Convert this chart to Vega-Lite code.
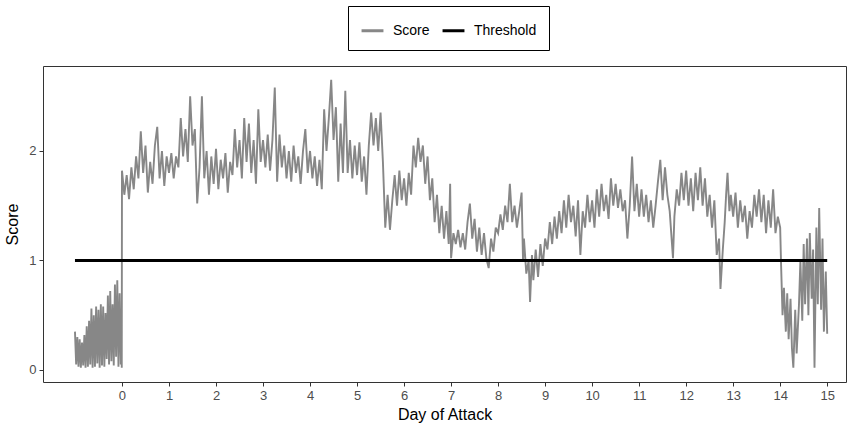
{
  "$schema": "https://vega.github.io/schema/vega-lite/v6.json",
  "width": 803,
  "height": 316,
  "autosize": {"type": "none"},
  "padding": {"left": 43, "top": 66, "right": 2, "bottom": 44},
  "background": "white",
  "config": {
    "font": "Liberation Sans",
    "view": {"stroke": "#333333", "strokeWidth": 1},
    "axis": {
      "domain": false,
      "grid": false,
      "tickColor": "#333333",
      "tickSize": 4,
      "labelColor": "#4d4d4d",
      "labelFontSize": 13,
      "labelPadding": 3,
      "titleFontSize": 16,
      "titleFontWeight": "normal",
      "titleColor": "black"
    }
  },
  "datasets": {
    "score": [
      {"d": -1.0, "s": 0.35}, {"d": -0.975, "s": 0.05}, {"d": -0.95, "s": 0.3}, {"d": -0.925, "s": 0.03},
      {"d": -0.9, "s": 0.28}, {"d": -0.875, "s": 0.02}, {"d": -0.85, "s": 0.25}, {"d": -0.825, "s": 0.04},
      {"d": -0.8, "s": 0.32}, {"d": -0.775, "s": 0.02}, {"d": -0.75, "s": 0.4}, {"d": -0.725, "s": 0.03},
      {"d": -0.7, "s": 0.45}, {"d": -0.675, "s": 0.05}, {"d": -0.65, "s": 0.56}, {"d": -0.625, "s": 0.02},
      {"d": -0.6, "s": 0.5}, {"d": -0.575, "s": 0.03}, {"d": -0.55, "s": 0.58}, {"d": -0.525, "s": 0.06},
      {"d": -0.5, "s": 0.55}, {"d": -0.475, "s": 0.02}, {"d": -0.45, "s": 0.6}, {"d": -0.425, "s": 0.04},
      {"d": -0.4, "s": 0.58}, {"d": -0.375, "s": 0.03}, {"d": -0.35, "s": 0.52}, {"d": -0.325, "s": 0.1},
      {"d": -0.3, "s": 0.68}, {"d": -0.275, "s": 0.05}, {"d": -0.25, "s": 0.72}, {"d": -0.225, "s": 0.08},
      {"d": -0.2, "s": 0.6}, {"d": -0.175, "s": 0.04}, {"d": -0.15, "s": 0.78}, {"d": -0.125, "s": 0.12},
      {"d": -0.1, "s": 0.82}, {"d": -0.075, "s": 0.03}, {"d": -0.05, "s": 0.7}, {"d": -0.025, "s": 0.05},
      {"d": -0.01, "s": 0.45}, {"d": -0.005, "s": 0.02},
      {"d": 0.0, "s": 1.82}, {"d": 0.05, "s": 1.6}, {"d": 0.1, "s": 1.78}, {"d": 0.15, "s": 1.56},
      {"d": 0.2, "s": 1.85}, {"d": 0.25, "s": 1.65}, {"d": 0.3, "s": 1.95}, {"d": 0.35, "s": 1.75},
      {"d": 0.4, "s": 2.18}, {"d": 0.45, "s": 1.8}, {"d": 0.5, "s": 2.05}, {"d": 0.55, "s": 1.62},
      {"d": 0.6, "s": 1.9}, {"d": 0.65, "s": 1.7}, {"d": 0.7, "s": 2.05}, {"d": 0.75, "s": 2.22},
      {"d": 0.8, "s": 1.75}, {"d": 0.85, "s": 2.0}, {"d": 0.9, "s": 1.68}, {"d": 0.95, "s": 1.95},
      {"d": 1.0, "s": 1.8}, {"d": 1.05, "s": 1.98}, {"d": 1.1, "s": 1.75}, {"d": 1.15, "s": 1.95},
      {"d": 1.2, "s": 1.85}, {"d": 1.25, "s": 2.3}, {"d": 1.3, "s": 1.95}, {"d": 1.35, "s": 2.2},
      {"d": 1.4, "s": 1.9}, {"d": 1.45, "s": 2.5}, {"d": 1.5, "s": 2.05}, {"d": 1.55, "s": 2.2},
      {"d": 1.6, "s": 1.52}, {"d": 1.65, "s": 1.85}, {"d": 1.7, "s": 2.5}, {"d": 1.75, "s": 1.75},
      {"d": 1.8, "s": 2.0}, {"d": 1.85, "s": 1.6}, {"d": 1.9, "s": 1.95}, {"d": 1.95, "s": 1.7},
      {"d": 2.0, "s": 2.02}, {"d": 2.05, "s": 1.65}, {"d": 2.1, "s": 1.92}, {"d": 2.15, "s": 1.75},
      {"d": 2.2, "s": 1.98}, {"d": 2.25, "s": 1.62}, {"d": 2.3, "s": 1.9}, {"d": 2.35, "s": 1.78},
      {"d": 2.4, "s": 2.2}, {"d": 2.45, "s": 1.85}, {"d": 2.5, "s": 2.1}, {"d": 2.55, "s": 1.75},
      {"d": 2.6, "s": 2.3}, {"d": 2.65, "s": 1.9}, {"d": 2.7, "s": 2.25}, {"d": 2.75, "s": 1.8},
      {"d": 2.8, "s": 2.1}, {"d": 2.85, "s": 1.7}, {"d": 2.9, "s": 2.38}, {"d": 2.95, "s": 1.9},
      {"d": 3.0, "s": 2.1}, {"d": 3.05, "s": 1.85}, {"d": 3.1, "s": 2.15}, {"d": 3.15, "s": 1.82},
      {"d": 3.2, "s": 2.1}, {"d": 3.25, "s": 2.58}, {"d": 3.3, "s": 1.72}, {"d": 3.35, "s": 2.15},
      {"d": 3.4, "s": 1.85}, {"d": 3.45, "s": 2.05}, {"d": 3.5, "s": 1.75}, {"d": 3.55, "s": 2.0},
      {"d": 3.6, "s": 1.72}, {"d": 3.65, "s": 2.05}, {"d": 3.7, "s": 1.8}, {"d": 3.75, "s": 1.95},
      {"d": 3.8, "s": 1.7}, {"d": 3.85, "s": 2.0}, {"d": 3.9, "s": 2.2}, {"d": 3.95, "s": 1.8},
      {"d": 4.0, "s": 2.0}, {"d": 4.05, "s": 1.75}, {"d": 4.1, "s": 1.95}, {"d": 4.15, "s": 1.68},
      {"d": 4.2, "s": 1.92}, {"d": 4.25, "s": 1.65}, {"d": 4.3, "s": 2.38}, {"d": 4.35, "s": 2.0},
      {"d": 4.4, "s": 2.3}, {"d": 4.45, "s": 2.65}, {"d": 4.5, "s": 2.1}, {"d": 4.55, "s": 2.4},
      {"d": 4.6, "s": 1.72}, {"d": 4.65, "s": 2.25}, {"d": 4.7, "s": 1.8}, {"d": 4.75, "s": 2.55},
      {"d": 4.8, "s": 1.8}, {"d": 4.85, "s": 2.1}, {"d": 4.9, "s": 1.75}, {"d": 4.95, "s": 2.05},
      {"d": 5.0, "s": 1.78}, {"d": 5.05, "s": 2.08}, {"d": 5.1, "s": 1.72}, {"d": 5.15, "s": 1.95},
      {"d": 5.2, "s": 1.6}, {"d": 5.25, "s": 2.05}, {"d": 5.3, "s": 2.35}, {"d": 5.35, "s": 2.05},
      {"d": 5.4, "s": 2.3}, {"d": 5.45, "s": 2.0}, {"d": 5.5, "s": 2.35}, {"d": 5.55, "s": 1.9},
      {"d": 5.6, "s": 1.3}, {"d": 5.65, "s": 1.6}, {"d": 5.7, "s": 1.28}, {"d": 5.75, "s": 1.55},
      {"d": 5.8, "s": 1.78}, {"d": 5.85, "s": 1.5}, {"d": 5.9, "s": 1.82}, {"d": 5.95, "s": 1.55},
      {"d": 6.0, "s": 1.75}, {"d": 6.05, "s": 1.5}, {"d": 6.1, "s": 1.8}, {"d": 6.15, "s": 1.6},
      {"d": 6.2, "s": 2.05}, {"d": 6.25, "s": 1.85}, {"d": 6.3, "s": 2.12}, {"d": 6.35, "s": 1.9},
      {"d": 6.4, "s": 2.05}, {"d": 6.45, "s": 1.7}, {"d": 6.5, "s": 1.95}, {"d": 6.55, "s": 1.55},
      {"d": 6.6, "s": 1.75}, {"d": 6.65, "s": 1.35}, {"d": 6.7, "s": 1.6}, {"d": 6.75, "s": 1.25},
      {"d": 6.8, "s": 1.5}, {"d": 6.85, "s": 1.2}, {"d": 6.9, "s": 1.45}, {"d": 6.95, "s": 1.15},
      {"d": 6.98, "s": 1.7}, {"d": 7.0, "s": 1.02}, {"d": 7.05, "s": 1.25}, {"d": 7.1, "s": 1.15},
      {"d": 7.15, "s": 1.28}, {"d": 7.2, "s": 1.12}, {"d": 7.25, "s": 1.25}, {"d": 7.3, "s": 1.1},
      {"d": 7.35, "s": 1.35}, {"d": 7.4, "s": 1.52}, {"d": 7.45, "s": 1.2}, {"d": 7.5, "s": 1.38},
      {"d": 7.55, "s": 1.08}, {"d": 7.6, "s": 1.3}, {"d": 7.65, "s": 1.05}, {"d": 7.7, "s": 1.25},
      {"d": 7.75, "s": 1.02}, {"d": 7.8, "s": 0.93}, {"d": 7.85, "s": 1.2}, {"d": 7.9, "s": 1.08},
      {"d": 7.95, "s": 1.3}, {"d": 8.0, "s": 1.25}, {"d": 8.05, "s": 1.42}, {"d": 8.1, "s": 1.28},
      {"d": 8.15, "s": 1.5}, {"d": 8.2, "s": 1.35}, {"d": 8.25, "s": 1.7}, {"d": 8.3, "s": 1.35},
      {"d": 8.35, "s": 1.5}, {"d": 8.4, "s": 1.3}, {"d": 8.45, "s": 1.45}, {"d": 8.5, "s": 1.62},
      {"d": 8.53, "s": 1.0}, {"d": 8.55, "s": 1.2}, {"d": 8.6, "s": 0.88}, {"d": 8.65, "s": 1.0},
      {"d": 8.68, "s": 0.62}, {"d": 8.72, "s": 1.05}, {"d": 8.75, "s": 0.82}, {"d": 8.8, "s": 1.1},
      {"d": 8.85, "s": 0.85}, {"d": 8.9, "s": 1.15}, {"d": 8.95, "s": 0.95}, {"d": 9.0, "s": 1.2},
      {"d": 9.05, "s": 1.1}, {"d": 9.1, "s": 1.35}, {"d": 9.15, "s": 1.15}, {"d": 9.2, "s": 1.4},
      {"d": 9.25, "s": 1.2}, {"d": 9.3, "s": 1.45}, {"d": 9.35, "s": 1.25}, {"d": 9.4, "s": 1.55},
      {"d": 9.45, "s": 1.3}, {"d": 9.5, "s": 1.6}, {"d": 9.55, "s": 1.35}, {"d": 9.6, "s": 1.5},
      {"d": 9.65, "s": 1.22}, {"d": 9.7, "s": 1.55}, {"d": 9.75, "s": 1.05}, {"d": 9.8, "s": 1.45},
      {"d": 9.85, "s": 1.3}, {"d": 9.9, "s": 1.6}, {"d": 9.95, "s": 1.35}, {"d": 10.0, "s": 1.55},
      {"d": 10.05, "s": 1.3}, {"d": 10.1, "s": 1.65}, {"d": 10.15, "s": 1.4}, {"d": 10.2, "s": 1.7},
      {"d": 10.25, "s": 1.45}, {"d": 10.3, "s": 1.6}, {"d": 10.35, "s": 1.38}, {"d": 10.4, "s": 1.75},
      {"d": 10.45, "s": 1.5}, {"d": 10.5, "s": 1.7}, {"d": 10.55, "s": 1.48}, {"d": 10.6, "s": 1.65},
      {"d": 10.65, "s": 1.45}, {"d": 10.7, "s": 1.55}, {"d": 10.75, "s": 1.2}, {"d": 10.8, "s": 1.5},
      {"d": 10.85, "s": 1.95}, {"d": 10.9, "s": 1.45}, {"d": 10.95, "s": 1.7}, {"d": 11.0, "s": 1.4},
      {"d": 11.05, "s": 1.65}, {"d": 11.1, "s": 1.4}, {"d": 11.15, "s": 1.6}, {"d": 11.2, "s": 1.35},
      {"d": 11.25, "s": 1.55}, {"d": 11.3, "s": 1.3}, {"d": 11.35, "s": 1.5}, {"d": 11.4, "s": 1.72},
      {"d": 11.45, "s": 1.92}, {"d": 11.5, "s": 1.55}, {"d": 11.55, "s": 1.85}, {"d": 11.6, "s": 1.6},
      {"d": 11.65, "s": 1.45}, {"d": 11.72, "s": 1.02}, {"d": 11.75, "s": 1.4}, {"d": 11.8, "s": 1.65},
      {"d": 11.85, "s": 1.5}, {"d": 11.9, "s": 1.8}, {"d": 11.95, "s": 1.55}, {"d": 12.0, "s": 1.82},
      {"d": 12.05, "s": 1.5}, {"d": 12.1, "s": 1.75}, {"d": 12.15, "s": 1.45}, {"d": 12.2, "s": 1.8},
      {"d": 12.25, "s": 1.55}, {"d": 12.3, "s": 1.85}, {"d": 12.35, "s": 1.5}, {"d": 12.4, "s": 1.75},
      {"d": 12.45, "s": 1.4}, {"d": 12.5, "s": 1.6}, {"d": 12.55, "s": 1.3}, {"d": 12.6, "s": 1.55},
      {"d": 12.65, "s": 1.05}, {"d": 12.7, "s": 1.2}, {"d": 12.73, "s": 0.74}, {"d": 12.78, "s": 1.1},
      {"d": 12.82, "s": 1.35}, {"d": 12.85, "s": 1.6}, {"d": 12.88, "s": 1.8}, {"d": 12.92, "s": 1.45},
      {"d": 12.95, "s": 1.6}, {"d": 13.0, "s": 1.4}, {"d": 13.05, "s": 1.62}, {"d": 13.1, "s": 1.3},
      {"d": 13.15, "s": 1.55}, {"d": 13.2, "s": 1.35}, {"d": 13.25, "s": 1.5}, {"d": 13.3, "s": 1.2},
      {"d": 13.35, "s": 1.45}, {"d": 13.4, "s": 1.3}, {"d": 13.45, "s": 1.6}, {"d": 13.5, "s": 1.4},
      {"d": 13.55, "s": 1.65}, {"d": 13.6, "s": 1.35}, {"d": 13.65, "s": 1.6}, {"d": 13.7, "s": 1.25},
      {"d": 13.75, "s": 1.55}, {"d": 13.8, "s": 1.3}, {"d": 13.85, "s": 1.65}, {"d": 13.9, "s": 1.25},
      {"d": 13.95, "s": 1.4}, {"d": 14.0, "s": 1.3}, {"d": 14.02, "s": 0.95}, {"d": 14.05, "s": 0.5},
      {"d": 14.08, "s": 0.75}, {"d": 14.12, "s": 0.35}, {"d": 14.15, "s": 0.7}, {"d": 14.18, "s": 0.28},
      {"d": 14.22, "s": 0.65}, {"d": 14.25, "s": 0.2}, {"d": 14.28, "s": 0.02}, {"d": 14.32, "s": 0.55},
      {"d": 14.35, "s": 0.15}, {"d": 14.4, "s": 0.6}, {"d": 14.43, "s": 1.0}, {"d": 14.47, "s": 0.45},
      {"d": 14.5, "s": 1.15}, {"d": 14.53, "s": 0.6}, {"d": 14.57, "s": 1.2}, {"d": 14.6, "s": 0.5},
      {"d": 14.63, "s": 1.25}, {"d": 14.67, "s": 0.65}, {"d": 14.7, "s": 1.1}, {"d": 14.73, "s": 0.02},
      {"d": 14.77, "s": 1.3}, {"d": 14.8, "s": 0.6}, {"d": 14.83, "s": 1.48}, {"d": 14.87, "s": 0.55},
      {"d": 14.9, "s": 1.2}, {"d": 14.93, "s": 0.35}, {"d": 14.97, "s": 0.9}, {"d": 15.0, "s": 0.33}
    ],
    "threshold": [
      {"d": -1.0, "s": 1.0},
      {"d": 15.0, "s": 1.0}
    ]
  },
  "layer": [
    {
      "data": {"name": "score"},
      "transform": [{"calculate": "'Score'", "as": "series"}],
      "mark": {"type": "line", "strokeWidth": 1.9, "clip": true},
      "encoding": {
        "x": {"field": "d", "type": "quantitative", "sort": null},
        "y": {"field": "s", "type": "quantitative"},
        "color": {"field": "series", "type": "nominal"}
      }
    },
    {
      "data": {"name": "threshold"},
      "transform": [{"calculate": "'Threshold'", "as": "series"}],
      "mark": {"type": "line", "strokeWidth": 3},
      "encoding": {
        "x": {
          "field": "d",
          "type": "quantitative",
          "scale": {"domain": [-1.68, 15.4], "nice": false, "zero": false},
          "axis": {"values": [0,1,2,3,4,5,6,7,8,9,10,11,12,13,14,15], "title": "Day of Attack", "titlePadding": 4, "format": "d"}
        },
        "y": {
          "field": "s",
          "type": "quantitative",
          "scale": {"domain": [-0.11, 2.776], "nice": false, "zero": false},
          "axis": {"values": [0, 1, 2], "title": "Score", "titlePadding": 8, "format": "d"}
        },
        "color": {
          "field": "series",
          "type": "nominal",
          "scale": {"domain": ["Score", "Threshold"], "range": ["#878787", "#000000"]},
          "legend": {
            "title": null,
            "orient": "none",
            "legendX": 305,
            "legendY": -60,
            "direction": "horizontal",
            "strokeColor": "#000000",
            "padding": 12,
            "symbolType": "stroke",
            "symbolStrokeWidth": 3,
            "symbolSize": 480,
            "labelFontSize": 14,
            "labelColor": "black",
            "columnPadding": 6,
            "labelOffset": 8
          }
        }
      }
    }
  ]
}
